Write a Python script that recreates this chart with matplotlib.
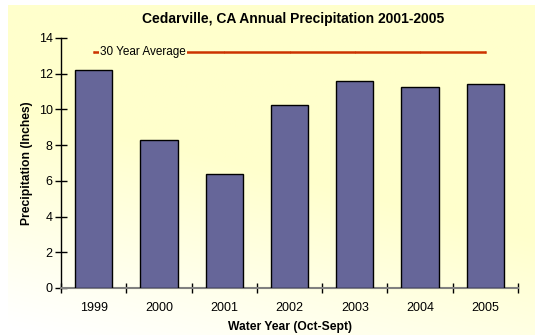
import numpy as np
import matplotlib.pyplot as plt

years = ['1999', '2000', '2001', '2002', '2003', '2004', '2005']
precip = [12.2, 8.3, 6.4, 10.25, 11.6, 11.25, 11.45]
avg_30yr = 13.2


def main():
    fig = plt.figure(figsize=(5.35, 3.35), dpi=100)
    fig.patch.set_facecolor('white')

    # pale yellow backdrop that fades toward white at the bottom left
    bg = fig.add_axes([8 / 535, 0.0, 1 - 8 / 535, 1 - 5 / 335], zorder=-10)
    yy, xx = np.mgrid[0:1:200j, 0:1:300j]
    t = np.clip(1.5 * yy + 0.6 * xx - 0.05, 0, 1)
    top = np.array([1.0, 1.0, 0.80])
    bot = np.array([1.0, 1.0, 1.0])
    img = bot + (top - bot) * t[..., None]
    bg.imshow(img, origin='lower', aspect='auto', extent=[0, 1, 0, 1])
    bg.axis('off')

    ax = fig.add_axes([61 / 535, 47 / 335, 457 / 535, 250 / 335])
    ax.patch.set_alpha(0)

    x = np.arange(len(years))
    ax.bar(x, precip, width=0.57, color='#666699', edgecolor='black',
           linewidth=1.0, zorder=3)
    ax.plot(x, [avg_30yr] * len(years), color='#CC3300', linewidth=1.8,
            marker='|', markersize=2, markeredgewidth=0.5, zorder=4)
    ax.text(0.1, avg_30yr, '30 Year Average', fontsize=8.5, va='center',
            ha='left', family='Liberation Sans', zorder=5,
            bbox=dict(facecolor='#FFFFCC', edgecolor='none', pad=0.5))

    ax.set_xlim(-0.5, len(years) - 0.5)
    ax.set_ylim(0, 14)
    ax.set_yticks(range(0, 15, 2))
    ax.set_xticks(x)
    ax.set_xticklabels(years)
    ax.set_xticks(np.arange(-0.5, len(years), 1.0), minor=True)
    ax.tick_params(axis='x', which='major', length=0, pad=10)
    ax.tick_params(axis='x', which='minor', direction='inout', length=7,
                   width=1, color='black')
    ax.tick_params(axis='y', direction='inout', length=8, width=1,
                   color='black', pad=2)
    for lbl in ax.get_xticklabels() + ax.get_yticklabels():
        lbl.set_family('Liberation Sans')
        lbl.set_fontsize(9)

    for side in ['top', 'right']:
        ax.spines[side].set_visible(False)
    ax.spines['left'].set_color('black')
    ax.spines['bottom'].set_color('#808080')
    ax.spines['bottom'].set_linewidth(1.5)
    ax.spines['left'].set_linewidth(1.0)

    ax.set_xlabel('Water Year (Oct-Sept)', fontsize=8.7, fontweight='bold',
                  family='Liberation Sans', labelpad=5)
    ax.set_ylabel('Precipitation (Inches)', fontsize=8.7, fontweight='bold',
                  family='Liberation Sans', labelpad=4)
    fig.text(0.548, 0.942, 'Cedarville, CA Annual Precipitation 2001-2005',
             ha='center', va='center', fontsize=10, fontweight='bold',
             family='Liberation Sans')

    plt.savefig('out.png', dpi=100)


if __name__ == '__main__':
    main()
